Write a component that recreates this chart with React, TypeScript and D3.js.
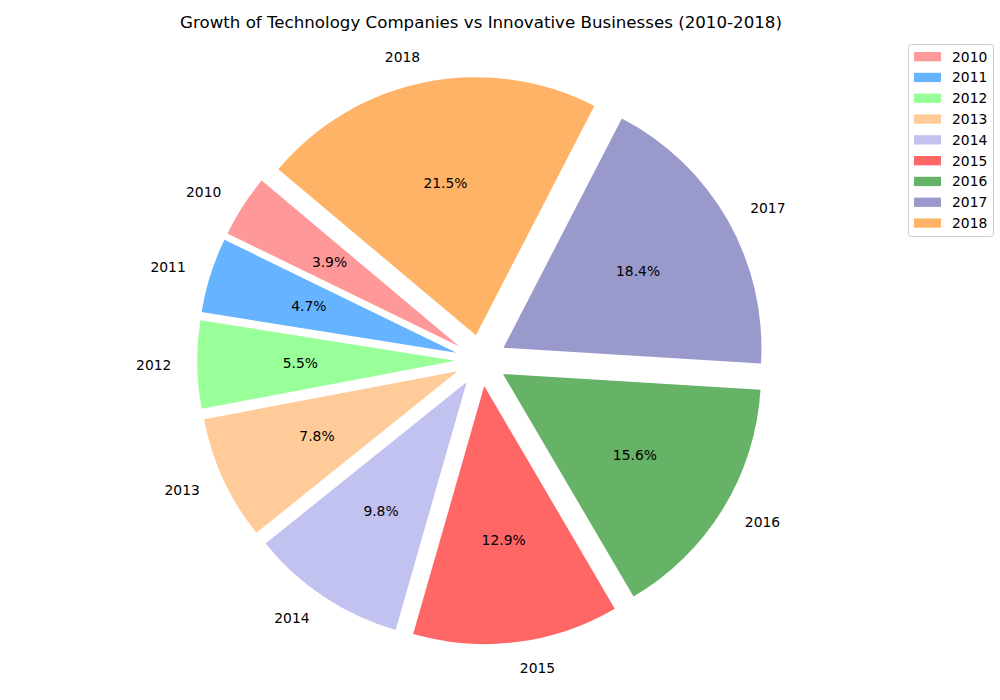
import * as d3 from "d3";

// Share of growth per year (percent of total)
const years = ["2010", "2011", "2012", "2013", "2014", "2015", "2016", "2017", "2018"];
const shares = [3.9, 4.7, 5.5, 7.8, 9.8, 12.9, 15.6, 18.4, 21.5];
const colors = [
  "#ff9999",
  "#66b3ff",
  "#99ff99",
  "#ffcc99",
  "#c2c2f0",
  "#ff6666",
  "#66b266",
  "#9999cc",
  "#ffb366",
];

const W = 1000;
const H = 700;
const CX = 481;
const CY = 360.5;
const R = 258;
const EXPLODE = 0.1;
const START_DEG = 140; // counter-clockwise from east, like matplotlib

const FONT = "'DejaVu Sans', sans-serif";
const LABEL_SIZE = 13.89;

export default function App() {
  const data = years.map((y, i) => ({ year: y, value: shares[i], color: colors[i] }));
  const total = d3.sum(shares);

  // d3 angles: 0 at 12 o'clock, clockwise -> go negative for counter-clockwise
  const start = ((90 - START_DEG) * Math.PI) / 180;
  const pie = d3
    .pie<(typeof data)[number]>()
    .value((d) => d.value)
    .sort(null)
    .startAngle(start)
    .endAngle(start - 2 * Math.PI);
  const arcs = pie(data);
  const arcGen = d3.arc<d3.PieArcDatum<(typeof data)[number]>>().innerRadius(0).outerRadius(R);

  return (
    <svg width={W} height={H} style={{ position: "absolute", left: 0, top: 0 }}>
      <rect width={W} height={H} fill="#fff" />
      <text
        x={CX}
        y={28}
        textAnchor="middle"
        fontFamily={FONT}
        fontSize={16.67}
        fill="#000"
      >
        Growth of Technology Companies vs Innovative Businesses (2010-2018)
      </text>
      {arcs.map((a) => {
        const mid = (a.startAngle + a.endAngle) / 2;
        const dx = Math.sin(mid);
        const dy = -Math.cos(mid);
        const ox = CX + EXPLODE * R * dx;
        const oy = CY + EXPLODE * R * dy;
        const lx = ox + 1.1 * R * dx;
        const ly = oy + 1.1 * R * dy;
        const px = ox + 0.6 * R * dx;
        const py = oy + 0.6 * R * dy;
        const pct = ((a.data.value / total) * 100).toFixed(1) + "%";
        return (
          <g key={a.data.year}>
            <path
              d={arcGen(a) ?? ""}
              transform={`translate(${ox},${oy})`}
              fill={a.data.color}
            />
            <text
              x={lx}
              y={ly}
              textAnchor={dx > 0 ? "start" : "end"}
              dominantBaseline="central"
              fontFamily={FONT}
              fontSize={LABEL_SIZE}
              fill="#000"
            >
              {a.data.year}
            </text>
            <text
              x={px}
              y={py}
              textAnchor="middle"
              dominantBaseline="central"
              fontFamily={FONT}
              fontSize={LABEL_SIZE}
              fill="#000"
            >
              {pct}
            </text>
          </g>
        );
      })}
      <g>
        <rect
          x={908.5}
          y={44.5}
          width={85}
          height={192}
          rx={3}
          fill="#fff"
          fillOpacity={0.8}
          stroke="#cccccc"
          strokeWidth={1}
        />
        {data.map((d, i) => {
          const cy = 56.5 + i * 20.8;
          return (
            <g key={d.year}>
              <rect x={914} y={cy - 4.5} width={27} height={9.3} fill={d.color} />
              <text
                x={952}
                y={cy}
                dominantBaseline="central"
                fontFamily={FONT}
                fontSize={LABEL_SIZE}
                fill="#000"
              >
                {d.year}
              </text>
            </g>
          );
        })}
      </g>
    </svg>
  );
}
